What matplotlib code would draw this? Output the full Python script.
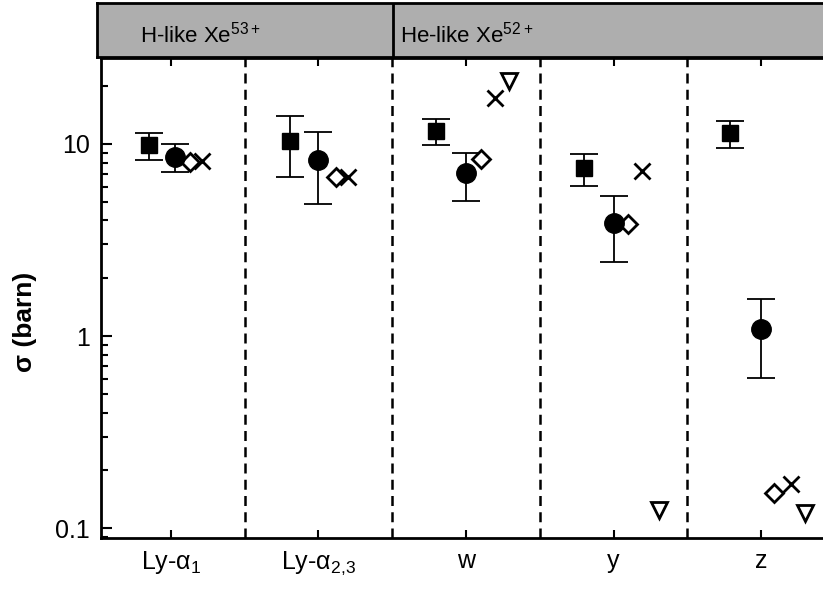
import numpy as np
import matplotlib.pyplot as plt

plt.rcParams['font.family'] = ['Liberation Sans', 'DejaVu Sans']
plt.rcParams['mathtext.fontset'] = 'custom'
plt.rcParams['mathtext.rm'] = 'Liberation Sans'

lines = ["Ly-α$_1$", "Ly-α$_{2{,}3}$", "w", "y", "z"]

# experiment (filled squares) with error bars
exp_sq = [9.9, 10.4, 11.7, 7.5, 11.4]
exp_sq_hi = [11.4, 14.0, 13.5, 8.9, 13.2]
exp_sq_lo = [8.26, 6.73, 9.9, 6.05, 9.5]

# experiment (filled circles) with error bars
exp_ci = [8.56, 8.26, 7.06, 3.88, 1.09]
exp_ci_hi = [10.0, 11.5, 8.97, 5.36, 1.56]
exp_ci_lo = [7.15, 4.87, 5.05, 2.43, 0.605]

# theory values
th_diamond = [8.05, 6.7, 8.36, 3.83, 0.152]
th_cross = [8.15, 6.7, 17.4, 7.24, 0.171]
th_tri = [21.3, 0.124, 0.12]          # only for w, y, z

x = np.arange(len(lines))

fig = plt.figure(figsize=(8.23, 5.90), dpi=100)
ax = fig.add_axes([0.1227, 0.088, 0.8773, 0.8137])

sq = np.array(exp_sq)
ax.errorbar(x - 0.15 - np.array([0, 0.04, 0.05, 0.05, 0.06]), sq,
            yerr=[sq - np.array(exp_sq_lo), np.array(exp_sq_hi) - sq],
            fmt='s', color='black', ms=11, capsize=10, elinewidth=1.3, capthick=1.3)

ci = np.array(exp_ci)
ax.errorbar(x + np.array([0.03, 0, 0, 0, 0]), ci,
            yerr=[ci - np.array(exp_ci_lo), np.array(exp_ci_hi) - ci],
            fmt='o', color='black', ms=14, capsize=10, elinewidth=1.3, capthick=1.3)

ax.plot(x + np.array([0.13, 0.12, 0.10, 0.10, 0.09]), th_diamond, 'D', ms=9,
        mfc='white', mec='black', mew=2, ls='none')
ax.plot(x + np.array([0.21, 0.20, 0.20, 0.19, 0.20]), th_cross, 'x', ms=11,
        color='black', mew=2, ls='none')
ax.plot(x[2:] + np.array([0.29, 0.31, 0.30]), th_tri, 'v', ms=12,
        mfc='white', mec='black', mew=2, ls='none')

for xd in [0.5, 1.5, 2.5, 3.5]:
    ax.axvline(xd, color='black', ls=(0, (4, 2.5)), lw=1.8, zorder=0)

ax.set_yscale('log')
ax.set_ylim(0.089, 28)
ax.set_xlim(-0.474, 4.42)
ax.set_yticks([0.1, 1, 10])
ax.set_yticklabels(['0.1', '1', '10'])
ax.set_xticks(x)
ax.set_xticklabels(lines)
ax.tick_params(axis='both', which='both', direction='in', labelsize=18,
               top=True, right=False, width=1.5)
ax.tick_params(axis='y', which='major', length=8, pad=8)
ax.tick_params(axis='y', which='minor', length=5)
ax.tick_params(axis='x', which='major', length=6, pad=8)
ax.spines['right'].set_visible(False)
for s in ['left', 'bottom', 'top']:
    ax.spines[s].set_linewidth(2)
ax.set_ylabel('σ (barn)', fontsize=19, fontweight='bold')
ax.yaxis.set_label_coords(-0.088, 0.45)

# shaded header band with the two ion labels
hd = fig.add_axes([0.118, 0.903, 0.882, 0.092])
hd.set_xlim(-0.474 - 0.035, 4.42)
hd.set_ylim(0, 1)
hd.set_facecolor('#aeaeae')
hd.set_xticks([])
hd.set_yticks([])
hd.spines['right'].set_visible(False)
for s in ['left', 'bottom', 'top']:
    hd.spines[s].set_linewidth(2)
hd.axvline(1.5, color='black', lw=2)
hd.text(0.19, 0.42, 'H-like Xe$^{53+}$', ha='center', va='center', fontsize=16)
hd.text(2.0, 0.42, 'He-like Xe$^{52+}$', ha='center', va='center', fontsize=16)

plt.savefig('out.png', dpi=100)
plt.close()
